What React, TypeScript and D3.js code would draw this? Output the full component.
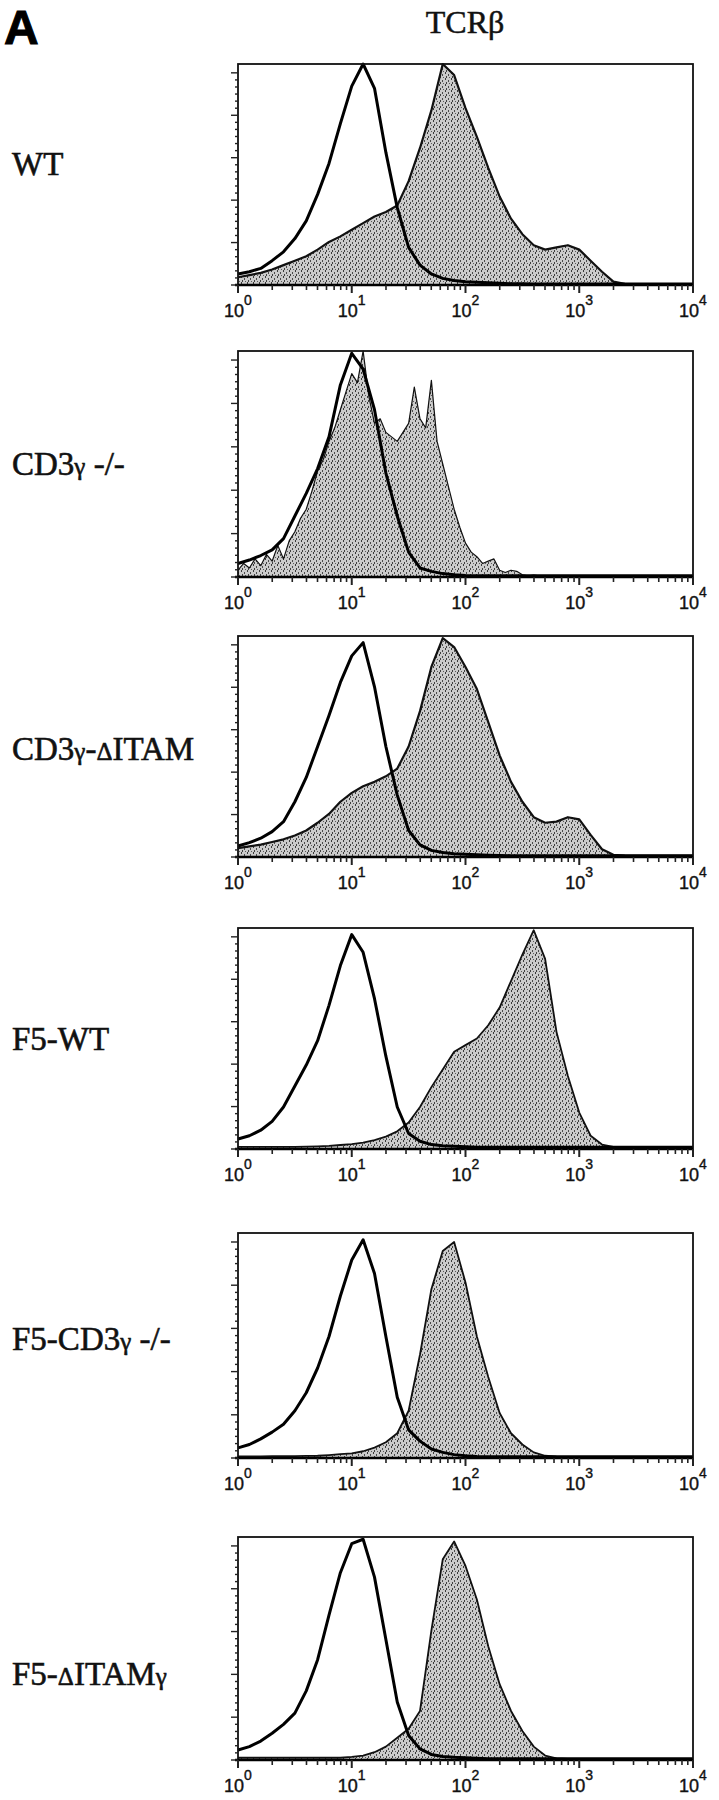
import React from "react";
import * as d3 from "d3";

// histogram bins on the log10 fluorescence axis (100 .. 104)
const logBins = d3.range(0, 4.001, 0.1);
const logBinsFine = d3.range(0, 4.001, 0.05);

const sampleNames = ["WT", "CD3γ -/-", "CD3γ-ΔITAM", "F5-WT", "F5-CD3γ -/-", "F5-ΔITAMγ"];
const decades = [1, 10, 100, 1000, 10000];
const decadeExponents = ["0", "1", "2", "3", "4"];

// % of max counts, open = isotype control, filled = TCRβ stain
const wtControl = [5, 6, 7.5, 11, 15, 21, 29, 41, 55, 73, 90, 100, 89, 60, 35, 17, 9, 5, 3, 2, 1.5, 1.2, 1, 0.8, 0.6, 0.6, 0.5, 0.5, 0.5, 0.5, 0.5, 0.4, 0.4, 0.4, 0.4, 0.4, 0.4, 0.4, 0.4, 0.4, 0.4];
const wtTcr = [3.5, 4.5, 5.5, 7, 9, 11, 13, 16, 19.5, 22, 25, 28, 31, 33, 36, 47, 62, 79, 100, 95, 80, 67, 53, 40, 30, 23, 18, 16, 17, 18, 16, 11, 6, 1.5, 0.5, 0.4, 0.3, 0.3, 0.3, 0.3, 0.3];

const cd3KoControl = [6, 7.5, 9.5, 12, 17, 27, 37, 48, 62, 85, 99, 92, 74, 46, 27, 11, 4, 2.5, 1.5, 1, 0.7, 0.6, 0.5, 0.5, 0.5, 0.5, 0.5, 0.5, 0.5, 0.5, 0.5, 0.5, 0.5, 0.5, 0.5, 0.5, 0.5, 0.5, 0.5, 0.5, 0.5];
const cd3KoTcr = [3, 6, 4, 8, 5, 10, 7, 14, 8, 16, 20, 26, 30, 38, 47, 52, 60, 66, 74, 82, 90, 86, 100, 80, 68, 70, 64, 62, 60, 64, 68, 84, 70, 66, 87, 60, 50, 40, 30, 22, 15, 11, 9, 6, 7, 8, 3, 2, 3, 2.5, 1, 0.5, 0.8, 0.5, 0.5, 0.6, 0.5, 0.4, 0.4, 0.5, 0.4, 0.4, 0.5, 0.4, 0.4, 0.4, 0.5, 0.4, 0.4, 0.4, 0.4, 0.5, 0.4, 0.4, 0.4, 0.4, 0.5, 0.4, 0.4, 0.4, 0.4];

const itamControl = [5, 6.5, 8.5, 11.5, 16, 25, 36, 50, 64, 79, 91, 97, 77, 50, 28, 12, 5.5, 3, 2, 1.5, 1.2, 1, 0.8, 0.7, 0.6, 0.6, 0.6, 0.6, 0.6, 0.6, 0.6, 0.6, 0.6, 0.6, 0.6, 0.6, 0.6, 0.6, 0.6, 0.6, 0.6];
const itamTcr = [4, 4.8, 5.6, 6.8, 8, 9.7, 12, 15.5, 19.5, 25, 29, 32, 34, 36.5, 40, 50, 66, 86, 99, 95, 86, 76, 61, 46, 34, 25, 18, 15.5, 16, 18, 17, 10, 3.5, 1, 0.6, 0.5, 0.5, 0.5, 0.5, 0.5, 0.5];

const f5WtControl = [4.5, 6, 8.5, 12.5, 19, 28.5, 38, 49, 65, 83, 97, 89, 68, 42, 19, 7, 3.5, 2, 1.5, 1.2, 1, 0.8, 0.8, 0.8, 0.8, 0.8, 0.8, 0.8, 0.8, 0.8, 0.8, 0.8, 0.8, 0.8, 0.8, 0.8, 0.8, 0.8, 0.8, 0.8, 0.8];
const f5WtTcr = [1, 1, 1, 1, 1, 1, 1.1, 1.2, 1.4, 1.8, 2.2, 2.9, 4, 5.6, 8, 12, 19, 28, 36, 44, 47, 50, 56, 64, 76, 88, 99, 86, 53, 33, 16.5, 6, 2, 1, 1, 0.8, 1, 0.8, 1, 0.8, 1];

const f5KoControl = [4.5, 6, 8.5, 11.5, 15, 21, 29, 40, 54, 72, 88, 97, 82, 54, 27, 12.5, 7.5, 4, 2.5, 1.5, 1, 0.7, 0.6, 0.6, 0.6, 0.6, 0.6, 0.6, 0.6, 0.6, 0.6, 0.6, 0.6, 0.6, 0.6, 0.6, 0.6, 0.6, 0.6, 0.6, 0.6];
const f5KoTcr = [0.7, 0.7, 0.7, 0.8, 0.8, 0.8, 0.9, 1, 1.3, 1.7, 2.1, 3, 4.6, 7, 11, 21, 46, 75, 92, 96, 78, 54, 36, 20, 11, 6, 2.5, 1, 0.6, 0.5, 0.5, 0.5, 0.5, 0.5, 0.5, 0.5, 0.5, 0.5, 0.5, 0.5, 0.5];

const f5ItamControl = [4.5, 6, 8.5, 12, 16, 21, 31, 45, 65, 84, 97, 99, 82, 54, 26, 11, 5, 2.5, 1.6, 1.2, 1, 0.8, 0.6, 0.6, 0.6, 0.6, 0.6, 0.6, 0.6, 0.6, 0.6, 0.6, 0.6, 0.6, 0.6, 0.6, 0.6, 0.6, 0.6, 0.6, 0.6];
const f5ItamTcr = [1, 1, 1, 1, 1, 1, 1, 1, 1, 1, 1.4, 2, 3.5, 6, 10, 14, 22, 58, 90, 98, 87, 72, 51, 34, 22, 13, 6, 2, 0.7, 0.5, 0.5, 0.5, 0.5, 0.5, 0.5, 0.5, 0.5, 0.5, 0.5, 0.5, 0.5];

const samples = [
  { control: wtControl, tcr: wtTcr, tcrBins: logBins, tcrWidth: 2.2 },
  { control: cd3KoControl, tcr: cd3KoTcr, tcrBins: logBinsFine, tcrWidth: 1.2 },
  { control: itamControl, tcr: itamTcr, tcrBins: logBins, tcrWidth: 2.2 },
  { control: f5WtControl, tcr: f5WtTcr, tcrBins: logBins, tcrWidth: 1.8 },
  { control: f5KoControl, tcr: f5KoTcr, tcrBins: logBins, tcrWidth: 1.8 },
  { control: f5ItamControl, tcr: f5ItamTcr, tcrBins: logBins, tcrWidth: 1.8 },
];

// layout
const W = 719;
const H = 1800;
const plotLeft = 238;
const plotRight = 693;
const panelTop = [64, 351, 636, 928, 1233, 1537];
const panelBottom = [285, 577, 857, 1149, 1458, 1760];
const labelBaseline = [175, 475, 760, 1050, 1350, 1685];

const serif = "'Liberation Serif', 'Times New Roman', serif";
const sans = "'Liberation Sans', Arial, sans-serif";

function SampleLabel({ text, y }: { text: string; y: number }) {
  // greek letters are set smaller in the original
  return (
    <text x={12} y={y} fontFamily={serif} fontSize={33} fill="#111" stroke="#111" strokeWidth={0.6}>
      {text.split("").map((ch, k) =>
        ch === "γ" || ch === "Δ" ? (
          <tspan key={k} fontSize={25}>{ch}</tspan>
        ) : (
          <tspan key={k}>{ch}</tspan>
        )
      )}
    </text>
  );
}

function Panel({ i }: { i: number }) {
  const s = samples[i];
  const x = d3.scaleLog().domain([1, 10000]).range([plotLeft, plotRight]);
  const y = d3.scaleLinear().domain([0, 100]).range([panelBottom[i], panelTop[i]]);

  const area = (bins: number[]) =>
    d3.area<number>()
      .x((_, k) => x(Math.pow(10, bins[k])))
      .y0(y(0))
      .y1((d) => y(d));
  const line = (bins: number[]) =>
    d3.line<number>()
      .x((_, k) => x(Math.pow(10, bins[k])))
      .y((d) => y(d));

  const xTicks = x.ticks();
  const isDecade = (t: number) => Math.abs(Math.log10(t) - Math.round(Math.log10(t))) < 1e-6;
  const yTicks = d3.range(0, 96.01, 3.2);

  return (
    <g>
      <path d={area(s.tcrBins)(s.tcr) || ""} fill="url(#stipple)" stroke="none" />
      <path d={line(s.tcrBins)(s.tcr) || ""} fill="none" stroke="#111" strokeWidth={s.tcrWidth} strokeLinejoin="round" />
      <path d={line(logBins)(s.control) || ""} fill="none" stroke="#000" strokeWidth={3} strokeLinejoin="round" />

      {/* frame */}
      <rect x={plotLeft} y={panelTop[i]} width={plotRight - plotLeft} height={panelBottom[i] - panelTop[i]}
        fill="none" stroke="#111" strokeWidth={1.8} />
      <line x1={plotLeft - 3} x2={plotRight} y1={y(0)} y2={y(0)} stroke="#000" strokeWidth={2.4} />

      {/* y ticks */}
      {yTicks.map((t, k) => (
        <line key={"y" + k} x1={plotLeft - (k % 6 === 0 ? 7 : 3)} x2={plotLeft} y1={y(t)} y2={y(t)}
          stroke="#222" strokeWidth={1.4} />
      ))}

      {/* x ticks */}
      {xTicks.map((t, k) => (
        <line key={"x" + k} x1={x(t)} x2={x(t)} y1={y(0)} y2={y(0) + (isDecade(t) ? 8 : 5)}
          stroke="#222" strokeWidth={isDecade(t) ? 2 : 1.6} />
      ))}
      {decades.map((t, k) => (
        <text key={"l" + k} x={x(t)} y={y(0) + 32} textAnchor="middle" fontFamily={sans} fill="#111"
          stroke="#111" strokeWidth={0.4}>
          <tspan fontSize={18}>10</tspan>
          <tspan fontSize={14} dy={-12}>{decadeExponents[k]}</tspan>
        </text>
      ))}

      <SampleLabel text={sampleNames[i]} y={labelBaseline[i]} />
    </g>
  );
}

export default function App() {
  return (
    <svg width={W} height={H} style={{ position: "absolute", left: 0, top: 0, background: "#fff" }}>
      <defs>
        <pattern id="stipple" width={6} height={6} patternUnits="userSpaceOnUse">
          <rect width={6} height={6} fill="#cbcbcb" />
          <rect x={1} y={0} width={1} height={2} fill="#3a3a3a" />
          <rect x={4} y={2} width={1} height={2} fill="#4a4a4a" />
          <rect x={2} y={4} width={1} height={2} fill="#404040" />
          <rect x={5} y={5} width={1} height={1} fill="#5a5a5a" />
        </pattern>
      </defs>
      <rect width={W} height={H} fill="#fff" />
      <text x={4} y={44} fontFamily={sans} fontWeight="bold" fontSize={48} fill="#000" stroke="#000" strokeWidth={1}>A</text>
      <text x={465} y={33} textAnchor="middle" fontFamily={serif} fontSize={32} fill="#111" stroke="#111" strokeWidth={0.5}>TCRβ</text>
      {samples.map((_, i) => (
        <Panel key={i} i={i} />
      ))}
    </svg>
  );
}
